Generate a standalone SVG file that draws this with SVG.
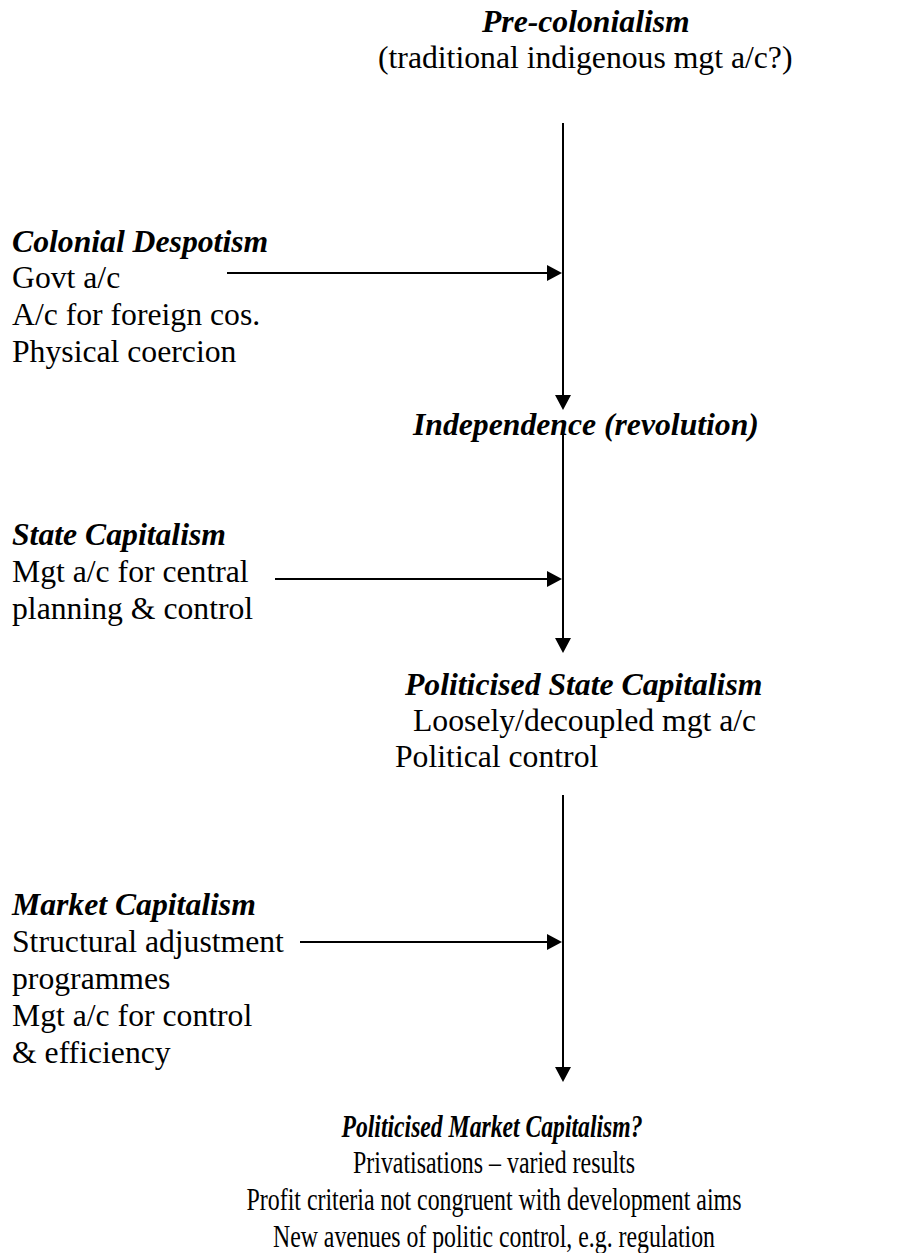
<svg xmlns="http://www.w3.org/2000/svg" width="921" height="1253" viewBox="0 0 921 1253">
<defs>
<style>
text{font-family:"Liberation Serif","Times New Roman",serif;font-size:31.7px;fill:#000}
.h{font-weight:bold;font-style:italic}
.c{stroke:#000;stroke-width:2;fill:none}
</style>
<marker id="ah" viewBox="0 0 15 16" refX="2" refY="8" markerWidth="15" markerHeight="16" markerUnits="userSpaceOnUse" orient="auto">
<path d="M0,0 L15,8 L0,16 z" fill="#000"/>
</marker>
</defs>
<rect width="921" height="1253" fill="#fff"/>
<g id="connectors">
<path class="c" d="M563,123 V397" marker-end="url(#ah)"/>
<path class="c" d="M563,428 V640" marker-end="url(#ah)"/>
<path class="c" d="M563,795 V1069" marker-end="url(#ah)"/>
<path class="c" d="M227,273 H549" marker-end="url(#ah)"/>
<path class="c" d="M275,579 H549" marker-end="url(#ah)"/>
<path class="c" d="M300,942 H549" marker-end="url(#ah)"/>
</g>
<g id="pre-colonialism">
<text class="h" x="482" y="32">Pre-colonialism</text>
<text x="378" y="68">(traditional indigenous mgt a/c?)</text>
</g>
<g id="colonial-despotism">
<text class="h" x="12" y="252">Colonial Despotism</text>
<text x="12" y="288">Govt a/c</text>
<text x="12" y="325">A/c for foreign cos.</text>
<text x="12" y="362">Physical coercion</text>
</g>
<g id="independence">
<text class="h" x="413" y="435">Independence (revolution)</text>
</g>
<g id="state-capitalism">
<text class="h" x="12" y="545">State Capitalism</text>
<text x="12" y="582">Mgt a/c for central</text>
<text x="12" y="619">planning &amp; control</text>
</g>
<g id="politicised-state-capitalism">
<text class="h" x="405" y="695">Politicised State Capitalism</text>
<text x="413" y="731">Loosely/decoupled mgt a/c</text>
<text x="395" y="767">Political control</text>
</g>
<g id="market-capitalism">
<text class="h" x="12" y="915">Market Capitalism</text>
<text x="12" y="952">Structural adjustment</text>
<text x="12" y="989">programmes</text>
<text x="12" y="1026">Mgt a/c for control</text>
<text x="12" y="1063">&amp; efficiency</text>
</g>
<g id="politicised-market-capitalism">
<text class="h" x="492" y="1137" text-anchor="middle" textLength="301" lengthAdjust="spacingAndGlyphs">Politicised Market Capitalism?</text>
<text x="494" y="1173" text-anchor="middle" textLength="282" lengthAdjust="spacingAndGlyphs">Privatisations – varied results</text>
<text x="494" y="1210" text-anchor="middle" textLength="495" lengthAdjust="spacingAndGlyphs">Profit criteria not congruent with development aims</text>
<text x="494" y="1247" text-anchor="middle" textLength="442" lengthAdjust="spacingAndGlyphs">New avenues of politic control, e.g. regulation</text>
</g>
</svg>
